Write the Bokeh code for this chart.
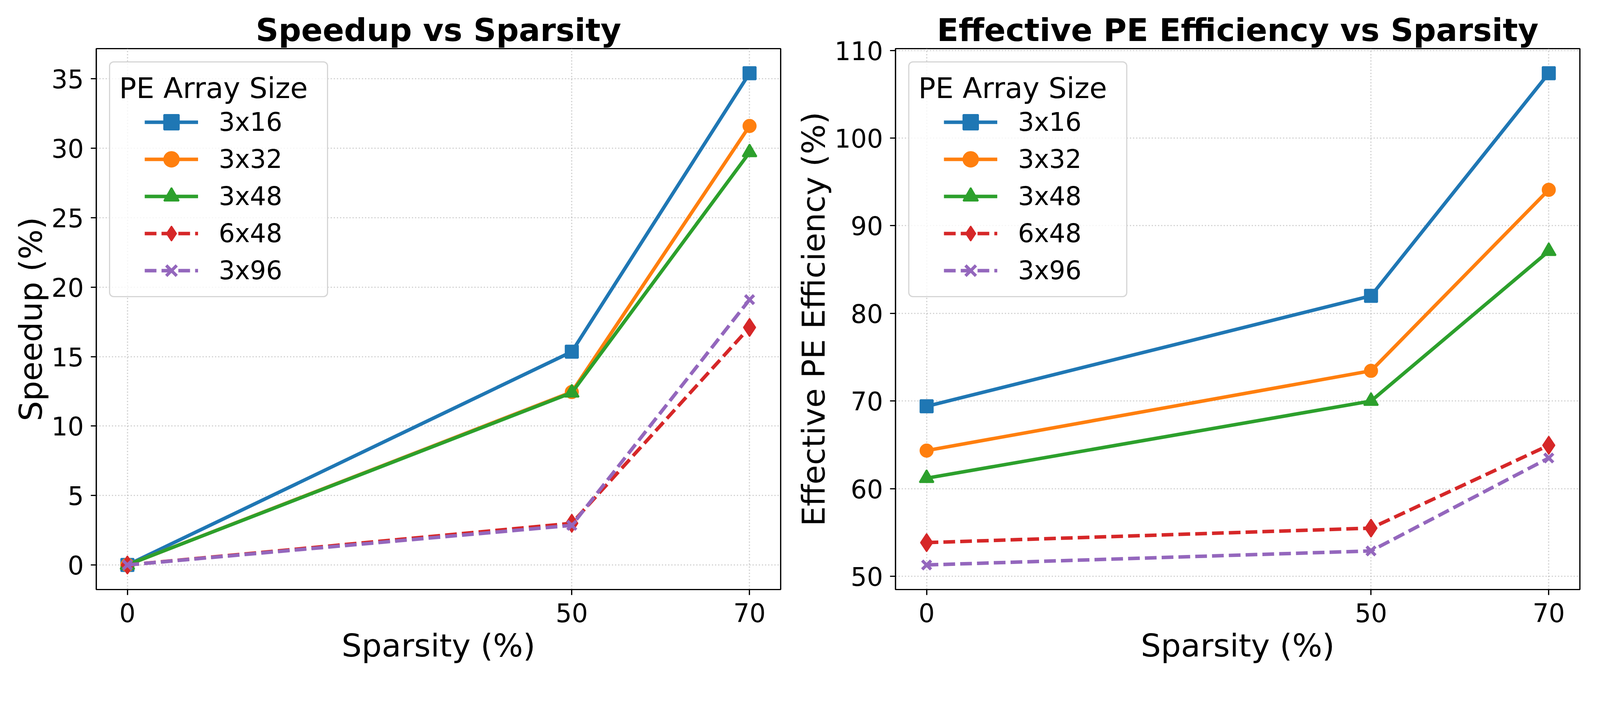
from bokeh.plotting import figure
from bokeh.models import Range1d, FixedTicker, Legend, LegendItem
from bokeh.layouts import row
from bokeh.embed import file_html
from bokeh.resources import INLINE

# ---------------- data ----------------
sparsity = [0, 50, 70]
array_sizes = ["3x16", "3x32", "3x48", "6x48", "3x96"]

speedup_3x16 = [0.0, 15.35, 35.4]
speedup_3x32 = [0.0, 12.45, 31.6]
speedup_3x48 = [0.0, 12.4, 29.7]
speedup_6x48 = [0.0, 3.0, 17.1]
speedup_3x96 = [0.0, 2.85, 19.1]

eff_3x16 = [69.4, 82.0, 107.4]
eff_3x32 = [64.35, 73.45, 94.1]
eff_3x48 = [61.2, 70.0, 87.1]
eff_6x48 = [53.85, 55.5, 64.95]
eff_3x96 = [51.3, 52.9, 63.5]

speed_ticks = [0, 5, 10, 15, 20, 25, 30, 35]
eff_ticks = [50, 60, 70, 80, 90, 100, 110]

legend_title = "PE Array Size"

# ---------------- style ----------------
colors = ["#1f77b4", "#ff7f0e", "#2ca02c", "#d62728", "#9467bd"]
markers = ["square", "circle", "triangle", "diamond", "x"]
dashes = ["solid", "solid", "solid", "30 13", "30 13"]
msize = {"square": 32, "circle": 32, "triangle": 36, "diamond": 46, "x": 32}
mlw = {"square": 4, "circle": 4, "triangle": 4, "diamond": 3, "x": 8}
FONT = "DejaVu Sans"

FIG_H = 1731
B_TOP = 124
B_BOTTOM = 222
FRAME_H = FIG_H - B_TOP - B_BOTTOM

ROW_H = 95          # legend row pitch
BOX_OFF = 33        # legend box offset from frame corner
BOX_W = 535
BOX_PAD = 23
ITEM_X = 124        # glyph start from frame left
ITEM_Y = 141        # first row top from frame top


def x_range_of(xs):
    lo, hi = min(xs), max(xs)
    pad = (hi - lo) * 0.05
    return Range1d(lo - pad, hi + pad)


def y_range_of(series):
    lo = min(min(s) for s in series)
    hi = max(max(s) for s in series)
    pad = (hi - lo) * 0.05
    return Range1d(lo - pad, hi + pad)


def make_fig(title, ylabel, series, ticks, width, border_left, border_right):
    p = figure(
        width=width, height=FIG_H,
        x_range=x_range_of(sparsity), y_range=y_range_of(series),
        output_backend="svg", toolbar_location=None,
        min_border_left=border_left, min_border_right=border_right,
        min_border_top=B_TOP, min_border_bottom=B_BOTTOM,
        title=title,
    )
    p.background_fill_color = "white"
    p.border_fill_color = "white"
    p.outline_line_color = "black"
    p.outline_line_width = 3.2

    p.title.text_font = FONT
    p.title.text_font_style = "bold"
    p.title.text_font_size = "81px"
    p.title.text_color = "black"
    p.title.align = "center"
    p.title.standoff = 2

    p.xaxis.axis_label = "Sparsity (%)"
    p.yaxis.axis_label = ylabel
    p.xaxis.ticker = FixedTicker(ticks=sparsity)
    p.yaxis.ticker = FixedTicker(ticks=ticks)
    for ax in (p.xaxis[0], p.yaxis[0]):
        ax.axis_line_width = 3.2
        ax.axis_line_color = "black"
        ax.major_tick_line_width = 3.2
        ax.major_tick_line_color = "black"
        ax.major_tick_out = 14
        ax.major_tick_in = 0
        ax.minor_tick_line_color = None
        ax.major_label_text_font = FONT
        ax.major_label_text_font_size = "65px"
        ax.major_label_text_color = "black"
        ax.axis_label_text_font = FONT
        ax.axis_label_text_font_size = "81px"
        ax.axis_label_text_font_style = "normal"
        ax.axis_label_text_color = "black"
    p.xaxis.major_label_standoff = 20
    p.xaxis.axis_label_standoff = 10
    p.yaxis.major_label_standoff = 18
    p.yaxis.axis_label_standoff = 3

    for g in (p.xgrid[0], p.ygrid[0]):
        g.grid_line_color = "#b0b0b0"
        g.grid_line_alpha = 0.6
        g.grid_line_width = 3.2
        g.grid_line_dash = "3 5"

    items = []
    for name, ys, c, m, d in zip(array_sizes, series, colors, markers, dashes):
        lr = p.line(sparsity, ys, line_color=c, line_width=9, line_dash=d)
        sr = p.scatter(sparsity, ys, marker=m, size=msize[m], fill_color=c,
                       line_color=c, line_width=mlw[m])
        items.append(LegendItem(label=name, renderers=[lr, sr]))

    # legend frame + title (an empty spacer item gives it its height)
    box = Legend(items=[LegendItem(label="", renderers=[])],
                 location="top_left", title=legend_title)
    box.margin = BOX_OFF
    box.padding = BOX_PAD
    box.spacing = 0
    box.glyph_width = BOX_W - 2 * BOX_PAD
    box.glyph_height = 5 * ROW_H - 10
    box.label_height = 1
    box.label_standoff = 0
    box.label_text_font_size = "1px"
    box.title_text_font = FONT
    box.title_text_font_size = "73px"
    box.title_text_font_style = "normal"
    box.title_text_color = "black"
    box.title_standoff = 2
    box.border_line_color = "#cccccc"
    box.border_line_width = 3.2
    box.border_line_alpha = 0.8
    box.background_fill_color = "white"
    box.background_fill_alpha = 0.8
    try:
        box.border_radius = 12
    except Exception:
        pass
    p.add_layout(box)

    # legend entries, placed over the frame
    legend = Legend(items=items,
                    location=(ITEM_X, FRAME_H - ITEM_Y - 5 * ROW_H))
    legend.padding = 0
    legend.margin = 0
    legend.spacing = 0
    legend.glyph_width = 137
    legend.glyph_height = ROW_H
    legend.label_height = ROW_H
    legend.label_standoff = 53
    legend.label_text_font = FONT
    legend.label_text_font_size = "65px"
    legend.label_text_color = "black"
    legend.border_line_color = None
    legend.background_fill_alpha = 0
    p.add_layout(legend)
    return p


p1 = make_fig("Speedup vs Sparsity", "Speedup (%)",
              [speedup_3x16, speedup_3x32, speedup_3x48, speedup_6x48, speedup_3x96],
              speed_ticks, 2010, 246, 12)
p2 = make_fig("Effective PE Efficiency vs Sparsity", "Effective PE Efficiency (%)",
              [eff_3x16, eff_3x32, eff_3x48, eff_6x48, eff_3x96],
              eff_ticks, 2054, 282, 20)

layout = row(p1, p2)
open("out.html", "w").write(file_html(layout, INLINE))
